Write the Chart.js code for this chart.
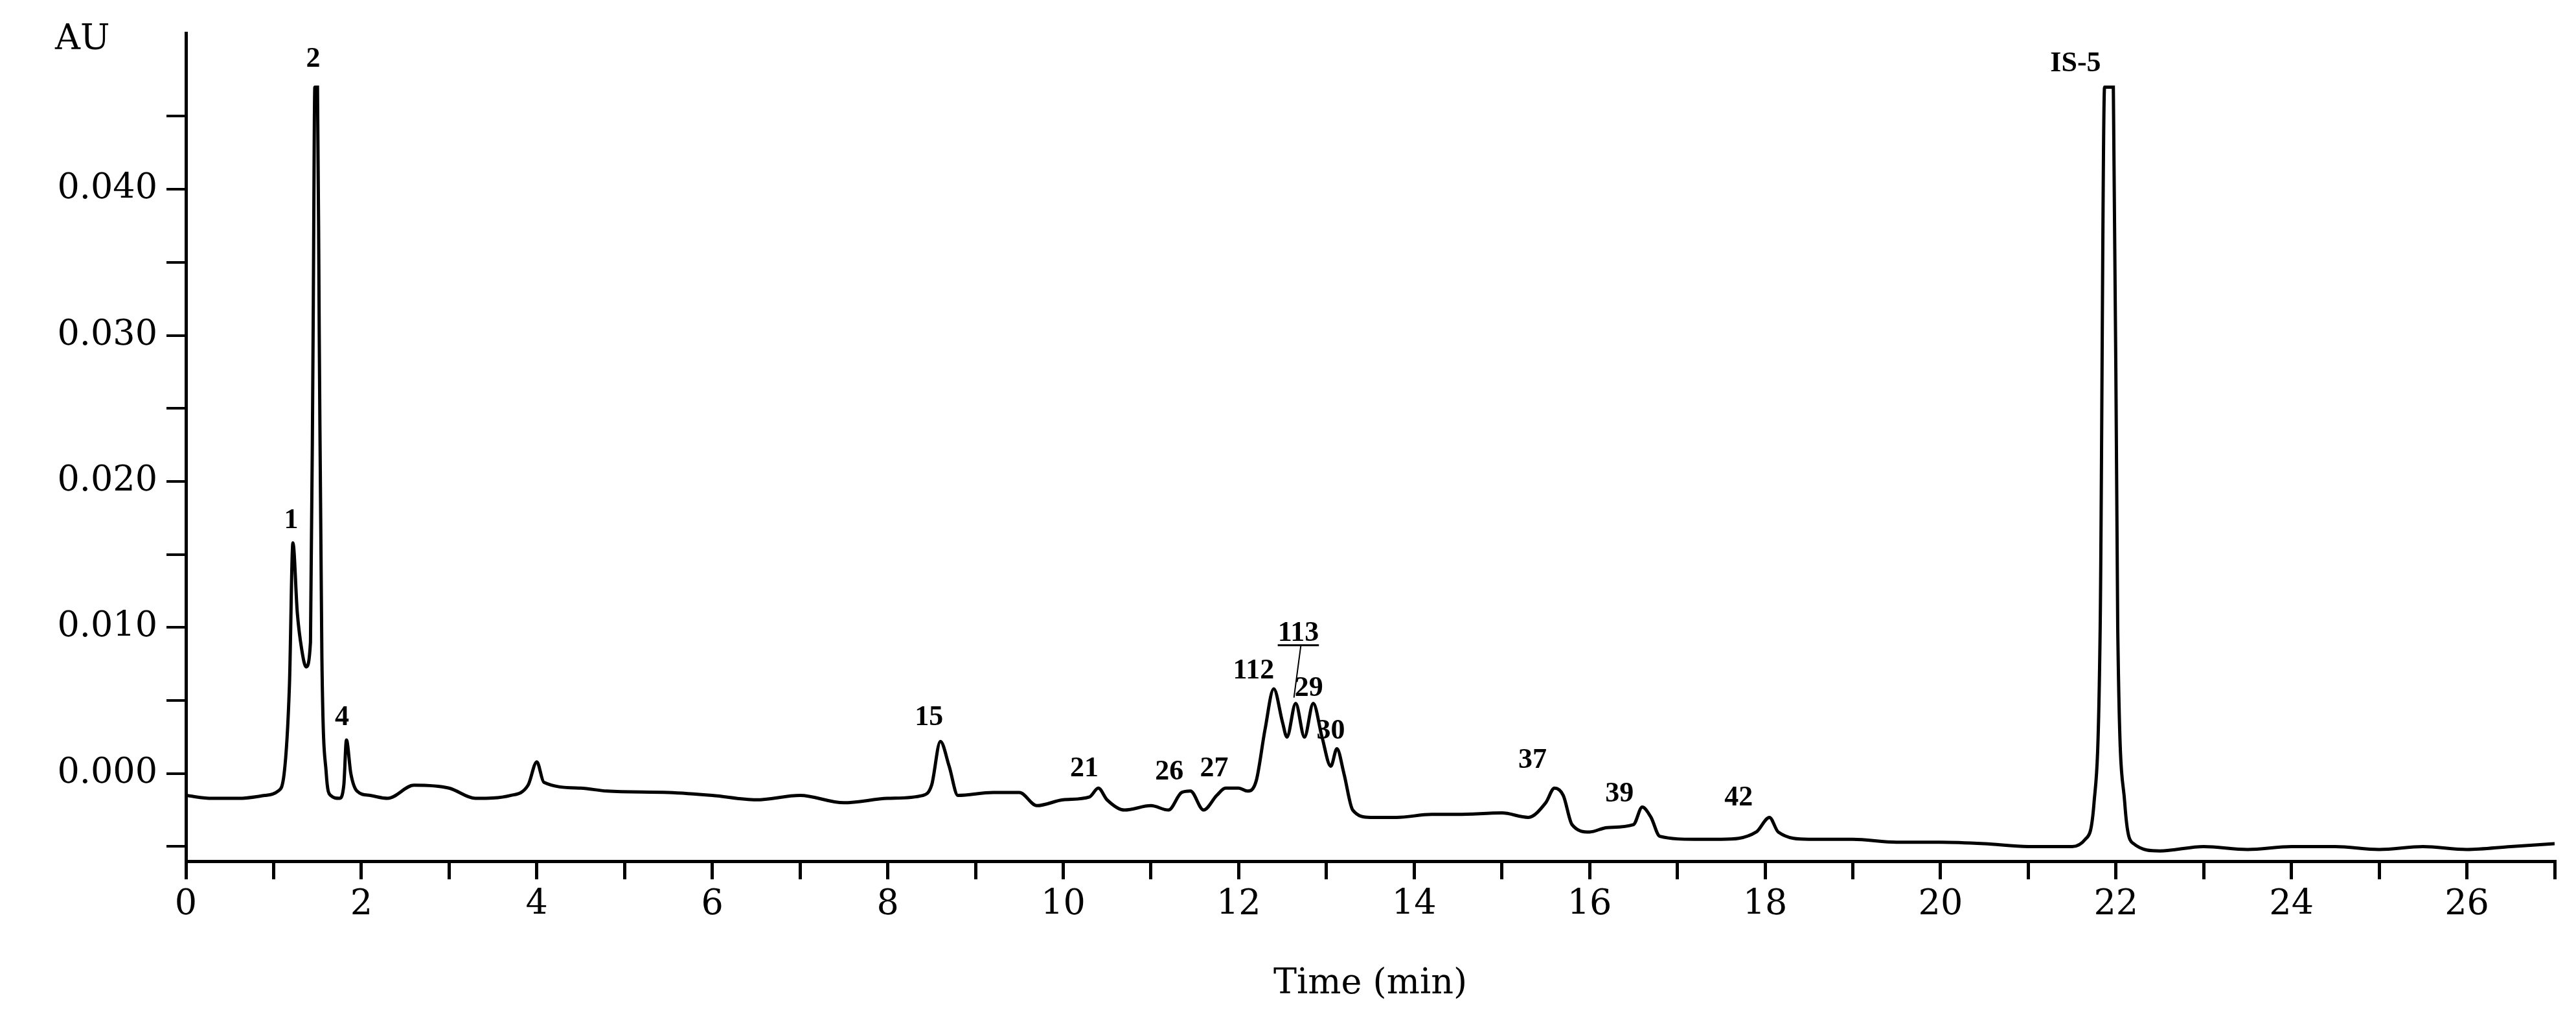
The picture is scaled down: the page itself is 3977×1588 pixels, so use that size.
<!DOCTYPE html>
<html>
<head>
<meta charset="utf-8">
<script src="https://cdn.jsdelivr.net/npm/chart.js@4"></script>
<style>
  body { margin: 0; background: #fff; }
  #wrap { width: 3977px; height: 1588px; }
</style>
</head>
<body>
<div id="wrap"><canvas id="chrom"></canvas></div>
<script>
// Trace (time in min, absorbance in AU)
const times = [0,0.3,0.6,0.9,1.05,1.12,1.18,1.22,1.27,1.32,1.37,1.42,1.45,1.47,1.5,1.52,1.55,1.6,1.65,1.75,1.8,1.83,1.88,1.95,2.1,2.3,2.6,3.0,3.3,3.7,3.9,4.0,4.08,4.5,4.8,5.5,6.0,6.5,7.0,7.5,8.0,8.4,8.5,8.6,8.7,8.8,9.2,9.5,9.7,10.0,10.3,10.4,10.5,10.7,11.0,11.2,11.35,11.45,11.6,11.75,11.85,12.0,12.1,12.2,12.3,12.4,12.5,12.55,12.65,12.75,12.85,12.95,13.05,13.12,13.2,13.3,13.5,13.8,14.2,14.5,15.0,15.3,15.5,15.6,15.7,15.8,16.0,16.2,16.5,16.6,16.7,16.8,17.2,17.5,17.9,18.05,18.15,18.5,19.0,19.5,20.0,20.5,21.0,21.5,21.65,21.75,21.82,21.87,21.97,22.02,22.1,22.2,22.5,23.0,23.5,24.0,24.5,25.0,25.5,26.0,26.5,27];
const absorb = [-0.0015,-0.0017,-0.0017,-0.0015,-0.0012,0.0,0.006,0.0158,0.011,0.0085,0.0073,0.009,0.03,0.047,0.047,0.03,0.008,0.0,-0.0015,-0.0017,-0.0008,0.0023,0.0,-0.0012,-0.0015,-0.0017,-0.0008,-0.001,-0.0017,-0.0015,-0.0008,0.0008,-0.0006,-0.001,-0.0012,-0.0013,-0.0015,-0.0018,-0.0015,-0.002,-0.0017,-0.0015,-0.0008,0.0022,0.0005,-0.0015,-0.0013,-0.0013,-0.0022,-0.0018,-0.0016,-0.001,-0.0018,-0.0025,-0.0022,-0.0025,-0.0013,-0.0012,-0.0025,-0.0015,-0.001,-0.001,-0.0012,-0.0005,0.003,0.0058,0.0035,0.0025,0.0048,0.0025,0.0048,0.0025,0.0005,0.0017,0.0,-0.0025,-0.003,-0.003,-0.0028,-0.0028,-0.0027,-0.003,-0.002,-0.001,-0.0015,-0.0035,-0.004,-0.0037,-0.0035,-0.0023,-0.003,-0.0043,-0.0045,-0.0045,-0.004,-0.003,-0.004,-0.0045,-0.0045,-0.0047,-0.0047,-0.0048,-0.005,-0.005,-0.0045,-0.002,0.01,0.047,0.047,0.01,-0.002,-0.0048,-0.0053,-0.005,-0.0052,-0.005,-0.005,-0.0052,-0.005,-0.0052,-0.005,-0.0048];

// Peak labels and where they sit
const peakNames = ['1','2','4','15','21','26','27','112','113','29','30','37','39','42','IS-5'];
const peakTimes = [1.2,1.45,1.78,8.47,10.24,11.21,11.72,12.17,12.68,12.8,13.05,15.35,16.34,17.7,21.54];
const peakAU = [0.0168,0.0484,0.0033,0.0033,-0.0002,-0.0004,-0.0002,0.0065,0.0091,0.0053,0.0024,0.0004,-0.0019,-0.0022,0.0481];

const yTicks = [-0.005,0,0.005,0.01,0.015,0.02,0.025,0.03,0.035,0.04,0.045];
const xTicks = [0,1,2,3,4,5,6,7,8,9,10,11,12,13,14,15,16,17,18,19,20,21,22,23,24,25,26,27];

const serif = '"DejaVu Serif", serif';

const labelPlugin = {
  id: 'labels',
  afterDraw(chart) {
    const c = chart.ctx, x = chart.scales.x, y = chart.scales.y;
    c.save();
    c.fillStyle = '#000';
    c.strokeStyle = '#000';
    c.font = 'bold 44px "Liberation Serif", serif';
    c.textAlign = 'center';
    c.textBaseline = 'alphabetic';
    peakNames.forEach((n, i) => {
      const px = x.getPixelForValue(peakTimes[i]);
      const py = y.getPixelForValue(peakAU[i]);
      c.fillText(n, px, py);
      if (n === '113') {
        const w = c.measureText(n).width;
        c.lineWidth = 3;
        c.beginPath();
        c.moveTo(px - w / 2, py + 7);
        c.lineTo(px + w / 2, py + 7);
        c.stroke();
        c.lineWidth = 2;
        c.beginPath();
        c.moveTo(px + 4, py + 7);
        c.lineTo(x.getPixelForValue(12.63), y.getPixelForValue(0.0052));
        c.stroke();
      }
    });
    c.font = '54px ' + serif;
    c.textAlign = 'left';
    c.textBaseline = 'top';
    c.fillText('AU', 85, 35);
    c.textAlign = 'center';
    c.fillText('Time (min)', (x.left + x.right) / 2, 1492);
    c.restore();
  }
};

new Chart(document.getElementById('chrom'), {
  type: 'line',
  data: {
    datasets: [{
      data: times.map((t, i) => ({ x: t, y: absorb[i] })),
      borderColor: '#000',
      borderWidth: 5,
      pointRadius: 0,
      cubicInterpolationMode: 'monotone',
      fill: false
    }]
  },
  options: {
    responsive: true,
    maintainAspectRatio: false,
    animation: false,
    layout: { padding: { left: 0, top: 51, right: 33, bottom: 0 } },
    plugins: { legend: { display: false }, tooltip: { enabled: false } },
    scales: {
      x: {
        type: 'linear', min: 0, max: 27,
        afterBuildTicks: s => { s.ticks = xTicks.map(v => ({ value: v })); },
        afterFit: s => { s.height = 259; },
        border: { color: '#000', width: 5 },
        grid: { drawOnChartArea: false, color: '#000', lineWidth: 5, tickLength: 28 },
        ticks: {
          color: '#000', font: { family: serif, size: 54 }, padding: 8, maxRotation: 0, autoSkip: false,
          callback: v => (v % 2 === 0 ? String(v) : '')
        }
      },
      y: {
        type: 'linear', min: -0.006, max: 0.0507,
        afterBuildTicks: s => { s.ticks = yTicks.map(v => ({ value: v })); },
        afterFit: s => { s.width = 287; },
        border: { color: '#000', width: 5 },
        grid: { drawOnChartArea: false, color: '#000', lineWidth: 4, tickLength: 30 },
        ticks: {
          color: '#000', font: { family: serif, size: 54 }, padding: 14, autoSkip: false,
          callback: v => (Math.abs(Math.round(v * 1000) % 10) === 0 ? v.toFixed(3) : '')
        }
      }
    }
  },
  plugins: [labelPlugin]
});
</script>
</body>
</html>
